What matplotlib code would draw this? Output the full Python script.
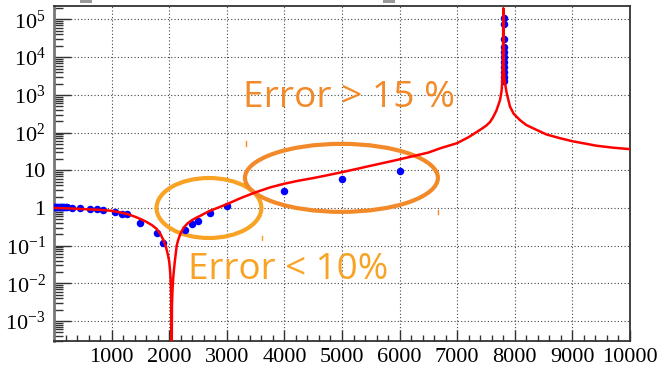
import matplotlib
matplotlib.use("Agg")
import matplotlib.pyplot as plt
from matplotlib.patches import Ellipse, Rectangle
from matplotlib.lines import Line2D
from matplotlib.ticker import FixedLocator, FixedFormatter, LogLocator, NullFormatter, MultipleLocator

# ---- data ----
curve_x = [0, 200, 450, 800, 1000, 1150, 1300, 1400, 1500, 1600, 1700, 1780, 1850, 1910, 1950, 1980,
           2000, 2015, 2025, 2033, 2038, 2043, 2048, 2053, 2060, 2068, 2080, 2095, 2110, 2130, 2155,
           2180, 2210, 2250, 2320, 2400, 2480, 2550, 2620, 2700, 2850, 3000, 3250, 3500, 3750, 4000,
           4250, 4500, 4750, 5000, 5250, 5500, 5750, 6000, 6250, 6500, 6700, 6850, 7000, 7200, 7395,
           7500, 7570, 7620, 7680, 7743, 7770, 7785, 7795, 7800, 7806, 7820, 7859, 7916, 7980, 8090,
           8200, 8380, 8550, 8785, 9000, 9421, 9700, 10000]
curve_y = [1.0, 0.98, 0.94, 0.89, 0.84, 0.76, 0.67, 0.59, 0.51, 0.43, 0.35, 0.28, 0.20, 0.13, 0.085, 0.055,
           0.038, 0.022, 0.0126, 0.006, 0.0025, 0.0001, 0.0025, 0.0045, 0.008, 0.0126, 0.021, 0.035, 0.055, 0.10, 0.14,
           0.18, 0.23, 0.30, 0.39, 0.48, 0.56, 0.63, 0.72, 0.83, 1.02, 1.26, 1.85, 2.6, 3.5, 4.4,
           5.3, 6.2, 7.4, 8.9, 10.8, 13.2, 16.0, 19.5, 24.0, 29.5, 38.0, 44.7, 52.5, 75.9, 117.5,
           151.0, 190.5, 251.0, 380.0, 724.0, 1259.0, 2512.0, 7943.0, 199500.0, 7943.0, 2512.0, 1122.0, 490.0, 316.0, 214.0,
           158.5, 117.5, 89.1, 70.8, 58.9, 44.7, 39.8, 36.3]

points_x = [0, 20, 40, 60, 80, 100, 120, 140, 160, 180, 200, 230, 310, 450, 620, 750, 850,
            1060, 1180, 1270, 1500, 1790, 1890, 2270, 2400, 2500, 2700, 3000, 4000, 5000, 6000,
            7805, 7805, 7805, 7805, 7805, 7805, 7805, 7805, 7805, 7805, 7805]
points_y = [1.08, 1.07, 1.06, 1.08, 1.05, 1.07, 1.06, 1.05, 1.04, 1.05, 1.04, 1.03, 1.0, 0.98, 0.96, 0.93, 0.90,
            0.78, 0.71, 0.69, 0.41, 0.22, 0.12, 0.26, 0.37, 0.45, 0.75, 1.15, 2.9, 5.9, 9.8,
            110000.0, 75000.0, 30000.0, 19000.0, 14000.0, 10000.0, 7400.0, 5500.0, 4000.0, 3000.0, 2300.0]

x_ticks = [1000, 2000, 3000, 4000, 5000, 6000, 7000, 8000, 9000, 10000]
x_tick_labels = ["1000", "2000", "3000", "4000", "5000", "6000", "7000", "8000", "9000", "10000"]
y_ticks = [1e-3, 1e-2, 1e-1, 1, 10, 1e2, 1e3, 1e4, 1e5]
y_tick_labels = [r"$10^{-3}$", r"$10^{-2}$", r"$10^{-1}$", "1", "10",
                 r"$10^{2}$", r"$10^{3}$", r"$10^{4}$", r"$10^{5}$"]

label_high = "Error > 15 %"
label_low = "Error < 10%"

# ---- style ----
plt.rcParams['mathtext.fontset'] = 'custom'
plt.rcParams['mathtext.rm'] = 'Liberation Serif'
plt.rcParams['mathtext.it'] = 'Liberation Serif:italic'
plt.rcParams['mathtext.default'] = 'rm'

W, H = 662, 370
fig = plt.figure(figsize=(W / 100, H / 100), dpi=100)
L, R, T, B = 54, 630, 6, 341
ax = fig.add_axes([L / W, (H - B) / H, (R - L) / W, (B - T) / H])

ax.set_xscale('linear')
ax.set_yscale('log')
ax.set_xlim(0, 10000)
ax.set_ylim(10 ** -3.53, 10 ** 5.358)

ax.plot(points_x, points_y, 'o', color='#0000ff', markersize=5.4, markeredgewidth=0, zorder=3)
ax.plot(curve_x, curve_y, '-', color='#ff0000', linewidth=1.8, zorder=4)

ax.xaxis.set_major_locator(FixedLocator(x_ticks))
ax.xaxis.set_major_formatter(FixedFormatter(x_tick_labels))
ax.xaxis.set_minor_locator(MultipleLocator(200))
ax.yaxis.set_major_locator(FixedLocator(y_ticks))
ax.yaxis.set_major_formatter(FixedFormatter(y_tick_labels))
ax.yaxis.set_minor_locator(LogLocator(base=10, subs=range(2, 10), numticks=30))
ax.yaxis.set_minor_formatter(NullFormatter())

ax.tick_params(axis='x', which='major', direction='in', length=8, width=1, color='#333333',
               labelsize=16, pad=5, top=False)
ax.tick_params(axis='x', which='minor', direction='in', length=4.3, width=1, color='#333333', top=False)
ax.tick_params(axis='y', which='major', direction='in', length=12, width=1, color='#333333',
               labelsize=16, pad=6, right=False)
ax.tick_params(axis='y', which='minor', direction='in', length=6.5, width=1, color='#333333', right=False)
for lab in ax.get_xticklabels() + ax.get_yticklabels():
    lab.set_fontfamily('Liberation Serif')

ax.grid(True, which='major', linestyle=(0, (1, 2)), color='#444444', linewidth=0.8)
for s in ax.spines.values():
    s.set_color('#333333')
    s.set_linewidth(1.3)
ax.spines['left'].set_color('#777777')
ax.spines['left'].set_linewidth(2)

# ---- annotations ----
c_light = '#f8a324'
c_dark = '#f28a2a'
ax.add_patch(Ellipse((0.269, 0.397), 0.182, 0.179, transform=ax.transAxes,
                     fill=False, edgecolor=c_light, linewidth=3, zorder=2))
ax.add_patch(Ellipse((0.499, 0.487), 0.335, 0.203, transform=ax.transAxes,
                     fill=False, edgecolor=c_dark, linewidth=3, zorder=2))
ax.text(0.328, 0.699, label_high, transform=ax.transAxes, color=c_dark,
        fontsize=26.8, family='Open Sans', va='baseline', ha='left', zorder=5)
ax.text(0.233, 0.185, label_low, transform=ax.transAxes, color=c_light,
        fontsize=26.5, family='Open Sans', va='baseline', ha='left', zorder=5)

# small stray marks
for (x0, y0, y1, c) in [(246, 141, 146, c_dark), (262, 236, 240, c_light), (438, 210, 214, c_dark)]:
    fig.add_artist(Line2D([x0 / W, x0 / W], [(H - y0) / H, (H - y1) / H],
                          transform=fig.transFigure, color=c, linewidth=1))
for (x0, w) in [(80, 12), (383, 12)]:
    fig.add_artist(Rectangle((x0 / W, (H - 2.5) / H), w / W, 2.5 / H, transform=fig.transFigure,
                             facecolor='#999999', edgecolor='none'))

fig.savefig('out.png', dpi=100)
